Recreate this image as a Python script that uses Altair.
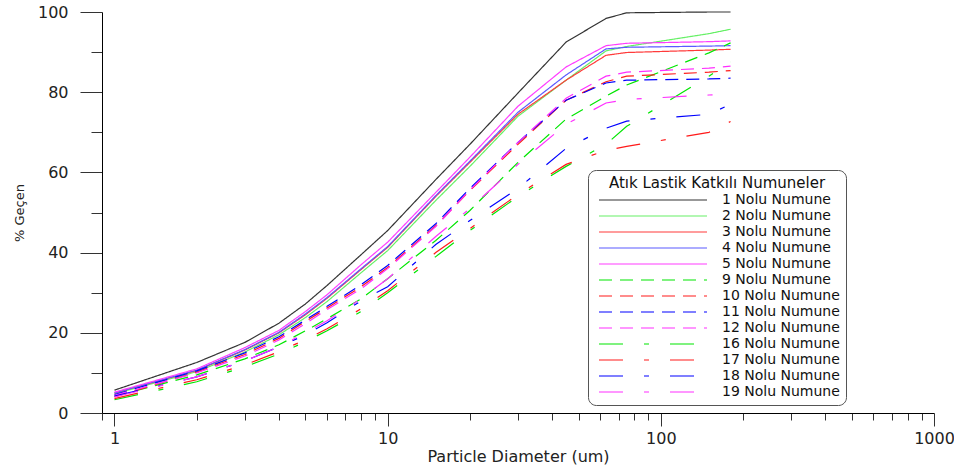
import altair as alt
import pandas as pd

# Particle diameters (um) of the measured points
diameters = [1, 2, 3, 4, 5, 6, 8, 10, 15, 20, 30, 45, 63, 75, 150, 180]

series_names = [
    "1 Nolu Numune", "2 Nolu Numune", "3 Nolu Numune", "4 Nolu Numune",
    "5 Nolu Numune", "9 Nolu Numune", "10 Nolu Numune", "11 Nolu Numune",
    "12 Nolu Numune", "16 Nolu Numune", "17 Nolu Numune", "18 Nolu Numune",
    "19 Nolu Numune",
]

# % passing values for each sample
n1 = [5.7, 12.6, 17.6, 22.4, 27.2, 31.8, 39.5, 45.5, 58.2, 67.0, 79.8, 92.5, 98.4, 99.8, 100, 100]
n2 = [4.8, 10.3, 15.2, 19.5, 23.8, 27.8, 35.0, 40.5, 53.0, 61.5, 74.0, 83.0, 90.3, 91.4, 94.6, 95.7]
n3 = [5.0, 10.6, 15.7, 20.0, 24.5, 28.6, 35.8, 41.3, 54.0, 62.5, 74.5, 83.0, 89.2, 89.9, 90.5, 90.7]
n4 = [5.0, 10.7, 15.8, 20.1, 24.7, 28.8, 36.0, 41.5, 54.2, 62.8, 75.0, 84.3, 90.8, 91.2, 91.5, 91.6]
n5 = [5.2, 11.0, 16.3, 20.6, 25.3, 29.5, 37.0, 42.6, 55.0, 63.8, 76.5, 86.3, 91.6, 92.2, 92.6, 92.8]
n9 = [4.2, 9.5, 13.5, 17.0, 20.5, 23.5, 28.5, 33.5, 43.0, 50.5, 62.5, 73.3, 79.0, 81.8, 89.8, 92.3]
n10 = [4.0, 10.2, 14.6, 18.6, 22.8, 26.2, 31.5, 36.3, 46.7, 55.5, 67.0, 78.0, 82.6, 84.0, 85.0, 85.4]
n11 = [4.6, 10.5, 15.0, 19.0, 23.2, 26.6, 32.0, 36.8, 47.2, 56.0, 67.5, 78.0, 82.3, 83.0, 83.3, 83.5]
n12 = [4.4, 10.0, 14.2, 18.2, 22.3, 25.8, 31.0, 36.0, 46.5, 55.6, 67.5, 78.5, 84.0, 85.0, 86.0, 86.5]
n16 = [3.3, 7.8, 11.5, 14.7, 17.8, 20.5, 25.3, 30.0, 39.0, 45.5, 54.0, 61.5, 67.0, 71.5, 84.0, 87.5]
n17 = [3.6, 8.3, 12.0, 15.3, 18.3, 21.0, 26.0, 30.5, 40.0, 46.0, 54.5, 62.0, 65.5, 66.5, 70.0, 72.7]
n18 = [4.2, 9.0, 13.0, 16.5, 19.5, 22.5, 28.0, 31.5, 42.0, 48.0, 56.0, 66.0, 71.0, 72.8, 74.5, 77.0]
n19 = [4.0, 9.0, 13.0, 16.5, 20.0, 23.0, 28.5, 33.5, 44.0, 51.0, 62.0, 72.0, 77.3, 78.2, 79.3, 79.6]

all_values = [n1, n2, n3, n4, n5, n9, n10, n11, n12, n16, n17, n18, n19]

colors = ["#333333", "#66f066", "#ff3b3b", "#5a5aff", "#ff3cff",
          "#00e600", "#ff1a1a", "#0000ff", "#ff2eff",
          "#00e600", "#ff1a1a", "#0000ff", "#ff2eff"]
dashes = [[1, 0]] * 5 + [[13, 8]] * 4 + [[24, 21, 5, 21]] * 4
widths = [1.2] * 5 + [2] * 8

x_ticks = [0.9, 1, 2, 3, 4, 5, 6, 7, 8, 9, 10, 20, 30, 40, 50, 60, 70, 80, 90,
           100, 200, 300, 400, 500, 600, 700, 800, 900, 1000]
y_ticks = [0, 10, 20, 30, 40, 50, 60, 70, 80, 90, 100]

rows = []
for name, vals in zip(series_names, all_values):
    for d, v in zip(diameters, vals):
        rows.append({"d": d, "p": v, "s": name})
df = pd.DataFrame(rows)

FONT = "DejaVu Sans"

legend = alt.Legend(
    orient="none", legendX=486, legendY=158,
    title="Atık Lastik Katkılı Numuneler",
    titleFont=FONT, titleFontSize=15, titleFontWeight="normal", titleColor="#111",
    titleAnchor="middle", titlePadding=2, titleLimit=400,
    labelFont=FONT, labelFontSize=14, labelColor="#111", labelOffset=14,
    labelLimit=300,
    symbolType="stroke", symbolSize=11664, symbolOffset=4,
    clipHeight=14, rowPadding=2,
    padding=6, strokeColor="#555555", fillColor="white", cornerRadius=8,
)

chart = alt.Chart(df).mark_line(clip=False).encode(
    x=alt.X(
        "d:Q",
        scale=alt.Scale(type="log", domain=[0.9, 1000], nice=False),
        axis=alt.Axis(
            values=x_ticks, grid=False, title="Particle Diameter (um)",
            tickSize={"condition": {"test": "indexof([1,10,100,1000], datum.value) >= 0", "value": 13}, "value": 7},
            labelExpr="indexof([1,10,100,1000], datum.value) >= 0 ? format(datum.value, 'd') : ''",
            labelPadding=4, labelFontSize=16, titleFontSize=16, titlePadding=2,
            labelFlush=False, labelOverlap=False,
        ),
    ),
    y=alt.Y(
        "p:Q",
        scale=alt.Scale(domain=[0, 100], nice=False),
        axis=alt.Axis(
            values=y_ticks, grid=False, title="% Geçen",
            tickSize={"condition": {"test": "datum.value % 20 == 0", "value": 22}, "value": 11},
            labelExpr="datum.value % 20 == 0 ? datum.label : ''",
            labelPadding=12, labelFontSize=16, titleFontSize=13, titlePadding=11,
            labelFlush=False, labelOverlap=False,
        ),
    ),
    color=alt.Color("s:N", sort=series_names,
                    scale=alt.Scale(domain=series_names, range=colors), legend=legend),
    strokeDash=alt.StrokeDash("s:N", sort=series_names,
                              scale=alt.Scale(domain=series_names, range=dashes), legend=legend),
    strokeWidth=alt.StrokeWidth("s:N", sort=series_names,
                                scale=alt.Scale(domain=series_names, range=widths), legend=legend),
    detail="s:N",
).properties(
    width=832, height=401,
    autosize=alt.AutoSizeParams(type="none"),
    padding={"left": 102, "top": 12, "right": 20, "bottom": 58},
).configure_view(
    stroke=None
).configure_axis(
    labelFont=FONT, titleFont=FONT, labelColor="#222", titleColor="#222",
    titleFontWeight="normal", domainColor="#000", tickColor="#333",
    domainWidth=1, tickWidth=1,
)

chart.save("out.html", embed_options={"renderer": "svg", "actions": False})
